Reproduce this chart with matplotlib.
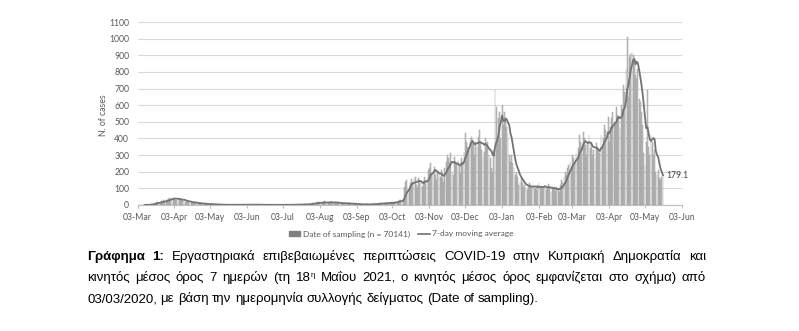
import numpy as np
import pandas as pd
import matplotlib
matplotlib.use("Agg")
import matplotlib.pyplot as plt
import matplotlib.dates as mdates
from matplotlib import font_manager as fm
from matplotlib.patches import Patch
from matplotlib.lines import Line2D

# Daily lab-confirmed cases by date of sampling, 03/03/2020 - 18/05/2021
mar20 = [0, 0, 0, 0, 0, 0, 2, 4, 0, 0, 1, 4, 6, 9, 12, 8, 18, 21, 9, 20, 25,
         18, 28, 22, 30, 30, 35, 42, 38]
apr20 = [45, 40, 38, 30, 32, 40, 36, 30, 28, 25, 32, 20, 16, 22, 18, 20, 15, 14, 12, 10, 16,
         12, 8, 10, 6, 9, 7, 5, 8, 6]
may20 = [5, 4, 3, 6, 2, 4, 3, 2, 1, 5, 3, 2, 1, 0, 2, 1, 3, 2, 0, 1, 2, 0, 1, 3, 1, 0, 2, 1,
         0, 0, 1]
jun20 = [2, 1, 0, 3, 4, 2, 1, 0, 2, 1, 5, 2, 1, 0, 1, 0, 2, 1, 0, 3, 1, 0, 2, 1, 0, 1, 2, 1,
         0, 1]
jul20 = [1, 0, 2, 1, 3, 0, 1, 2, 1, 0, 3, 2, 4, 1, 2, 3, 1, 5, 2, 3, 4, 6, 4, 3, 8, 5, 7, 12,
         10, 14, 9]
aug20 = [16, 20, 12, 10, 14, 18, 22, 15, 13, 11, 17, 20, 19, 14, 12, 16, 10, 13, 15, 9, 11,
         8, 12, 10, 7, 9, 13, 8, 6, 10, 7]
sep20 = [5, 4, 6, 3, 7, 2, 4, 3, 5, 2, 6, 4, 3, 2, 5, 7, 4, 8, 6, 9, 5, 11, 8, 13, 10, 7, 12,
         15, 9, 14]
oct20 = [12, 18, 15, 10, 16, 22, 20, 25, 30, 28, 22, 35, 110, 140, 150, 100, 90, 130, 155,
         140, 165, 170, 120, 100, 160, 150, 135, 110, 145, 170, 140]
nov20 = [130, 210, 220, 250, 190, 200, 230, 180, 150, 200, 190, 170, 210, 160, 140, 220, 260,
         300, 280, 250, 310, 200, 180, 290, 260, 240, 270, 230, 190, 280]
dec20 = [260, 320, 430, 380, 350, 330, 400, 410, 390, 370, 300, 380, 350, 410, 450, 380, 330,
         290, 320, 400, 360, 380, 300, 280, 220, 200, 330, 700, 590, 400, 520]
jan21 = [560, 400, 600, 480, 560, 520, 470, 430, 300, 260, 300, 250, 220, 180, 200, 170, 120,
         140, 160, 130, 110, 120, 100, 90, 110, 130, 120, 100, 125, 95, 105]
feb21 = [90, 120, 130, 100, 115, 95, 110, 120, 90, 105, 125, 100, 80, 110, 95, 100, 85, 110,
         90, 80, 120, 150, 130, 170, 200, 180, 220, 240]
mar21 = [260, 230, 300, 280, 250, 310, 290, 340, 420, 380, 350, 440, 400, 360, 300, 370, 420,
         340, 380, 300, 330, 280, 370, 350, 330, 310, 420, 360, 400, 480, 450]
apr21 = [420, 530, 380, 470, 520, 560, 500, 480, 590, 540, 520, 460, 600, 580, 720, 680, 820,
         1010, 650, 890, 910, 920, 900, 870, 780, 760, 820, 640, 620, 560]
may21 = [480, 310, 240, 380, 690, 350, 300, 420, 380, 300, 330, 200, 180, 210, 160, 150, 170,
         184]

cases = np.array(mar20 + apr20 + may20 + jun20 + jul20 + aug20 + sep20 + oct20 + nov20
                 + dec20 + jan21 + feb21 + mar21 + apr21 + may21, dtype=float)
dates = pd.date_range("2020-03-03", periods=len(cases), freq="D")
ma7 = pd.Series(cases, index=dates).rolling(7).mean()

bar_label = "Date of sampling (n = 70141)"
line_label = "7-day moving average"
y_ticks = list(range(0, 1101, 100))
x_ticks = pd.date_range("2020-03-01", "2021-06-03", freq="MS") + pd.Timedelta(days=2)

W, H = 799, 331
fig = plt.figure(figsize=(W / 100, H / 100), dpi=100)
ax = fig.add_axes([137.5 / W, 1 - 205 / H, (682 - 137.5) / W, (205 - 22) / H])

ax.bar(dates, cases, width=0.7, color="#c8c8c8", edgecolor="#939393", linewidth=0.3)
ax.plot(ma7.index, ma7.values, color="#737373", lw=1.3)
ax.text(ma7.index[-1] + pd.Timedelta(days=3), ma7.values[-1], f"{ma7.values[-1]:.1f}",
        fontsize=6.2, color="#404040", va="center", ha="left", family="Lato")

ax.set_xlim(pd.Timestamp("2020-03-03"), pd.Timestamp("2021-06-03"))
ax.set_ylim(0, 1100)
ax.set_yticks(y_ticks)
ax.set_xticks(x_ticks)
ax.xaxis.set_major_formatter(mdates.DateFormatter("%d-%b"))
ax.grid(axis="y", color="#d9d9d9", lw=0.8)
ax.set_axisbelow(True)
for s in ["top", "right", "left"]:
    ax.spines[s].set_visible(False)
ax.spines["bottom"].set_color("#bfbfbf")
ax.spines["bottom"].set_linewidth(0.8)
ax.tick_params(axis="y", length=0, labelsize=6.2, labelcolor="#595959", pad=6)
ax.tick_params(axis="x", length=2, color="#bfbfbf", labelsize=6.2, labelcolor="#595959", pad=4)
for lbl in ax.get_xticklabels() + ax.get_yticklabels():
    lbl.set_family("Lato")

fig.text(103 / W, 1 - 115 / H, "N. of cases", rotation=90, fontsize=6.2, color="#595959",
         ha="center", va="center", family="Lato")

handles = [Patch(color="#7f7f7f"), Line2D([], [], color="#737373", lw=1.2)]
fig.legend(handles, [bar_label, line_label], loc="center", bbox_to_anchor=(401 / W, 1 - 234 / H),
           ncol=2, frameon=False, handlelength=1.4, handleheight=0.45, handletextpad=0.25,
           columnspacing=1.0, prop={"family": "Lato", "size": 6.0}, labelcolor="#595959")

# caption, justified like the report text
renderer = fig.canvas.get_renderer()
try:
    fm.findfont("Liberation Sans Narrow", fallback_to_default=False)
    cap_font = "Liberation Sans Narrow"
except ValueError:
    cap_font = "Liberation Sans"
cap_size = 10.0


def width_of(s, size=None, weight="normal"):
    t = fig.text(0, 0, s, fontsize=size or cap_size, family=cap_font, weight=weight)
    w = t.get_window_extent(renderer).width
    t.remove()
    return w


def draw_line(words, y, x0, x1, justify=True):
    widths = []
    for w in words:
        if w[0] == "sup":
            widths.append(width_of(w[1]) + width_of(w[2], cap_size * 0.6))
        else:
            widths.append(width_of(w[0], weight=w[1]))
    space = width_of("a b") - width_of("ab")
    gap = (x1 - x0 - sum(widths)) / (len(words) - 1) if justify else space
    x = x0
    for w, wd in zip(words, widths):
        if w[0] == "sup":
            fig.text(x / W, 1 - y / H, w[1], fontsize=cap_size, family=cap_font, va="baseline")
            fig.text((x + width_of(w[1])) / W, 1 - (y - 4) / H, w[2], fontsize=cap_size * 0.6,
                     family=cap_font, va="baseline")
        else:
            fig.text(x / W, 1 - y / H, w[0], fontsize=cap_size, family=cap_font, weight=w[1],
                     va="baseline")
        x += wd + gap


line1 = [("Γράφημα", "bold"), ("1:", "bold")] + [(w, "normal") for w in
         "Εργαστηριακά επιβεβαιωμένες περιπτώσεις COVID-19 στην Κυπριακή Δημοκρατία και".split()]
line2 = [(w, "normal") for w in "κινητός μέσος όρος 7 ημερών (τη".split()] + [("sup", "18", "η")] + \
        [(w, "normal") for w in "Μαΐου 2021, ο κινητός μέσος όρος εμφανίζεται στο σχήμα) από".split()]
line3 = [(w, "normal") for w in
         "03/03/2020, με βάση την ημερομηνία συλλογής δείγματος (Date of sampling).".split()]

# fit the caption size so the last (unjustified) line ends where it does in the report
natural = sum(width_of(w[0]) for w in line3) + (len(line3) - 1) * (width_of("a b") - width_of("ab"))
cap_size = cap_size * (543 - 87) / natural

draw_line(line1, 260, 87, 706)
draw_line(line2, 281, 87, 706)
draw_line(line3, 302, 87, 706, justify=False)

fig.savefig("out.png", dpi=100)
